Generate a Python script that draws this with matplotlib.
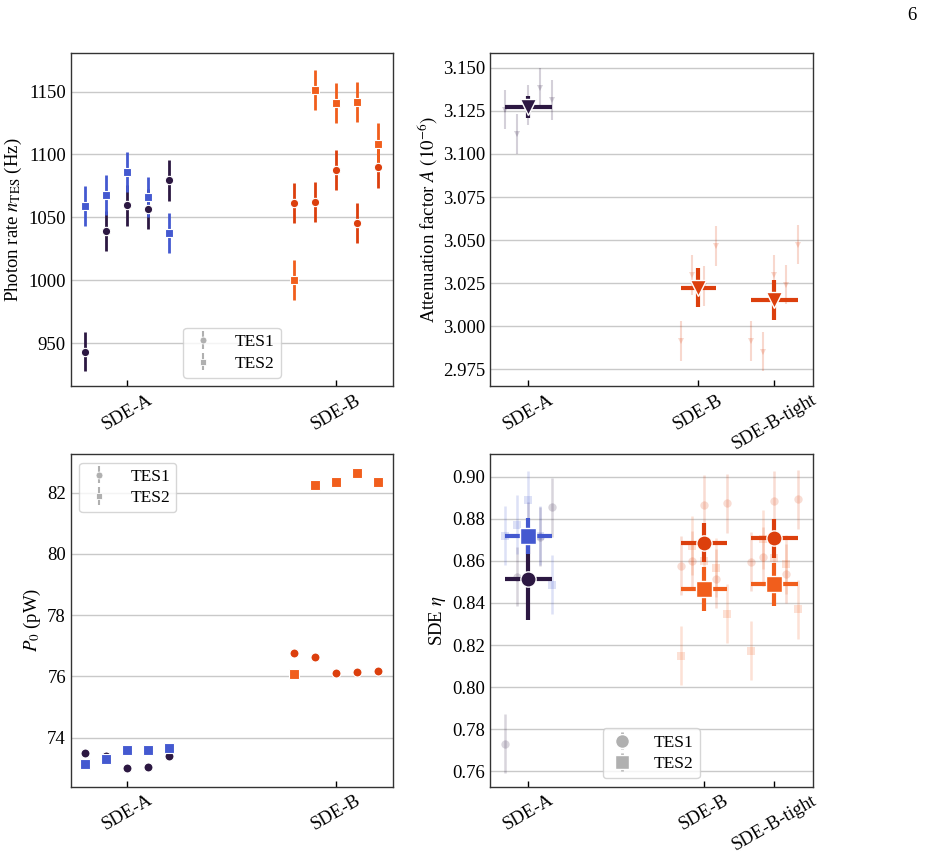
import numpy as np
import matplotlib
matplotlib.use('Agg')
import matplotlib.pyplot as plt
from matplotlib.ticker import FormatStrFormatter

plt.rcParams['font.family'] = ['Liberation Serif', 'DejaVu Serif']
plt.rcParams['mathtext.fontset'] = 'stix'
plt.rcParams['font.size'] = 13.5

# ---------------- data ----------------
tes_labels = ['TES1', 'TES2']
cats2 = ['SDE-A', 'SDE-B']
cats3 = ['SDE-A', 'SDE-B', 'SDE-B-tight']

# photon rate (Hz)
rate_A_tes1 = [943.1, 1038.9, 1059.5, 1056.9, 1079.4]
rate_A_tes2 = [1059.3, 1067.5, 1086.0, 1066.1, 1037.6]
rate_B_tes1 = [1061.4, 1062.4, 1087.8, 1045.8, 1089.7]
rate_B_tes2 = [1000.0, 1151.3, 1140.7, 1141.5, 1108.7]
rate_err_A_tes1 = [15.5, 16, 16, 16, 16]
rate_err_A_tes2 = [16, 16, 16, 16, 16]
rate_err_B_tes1 = [16, 16, 16, 16, 16]
rate_err_B_tes2 = [16, 16, 16, 16, 16]

# P0 (pW)
p0_A_tes1 = [73.50, 73.40, 73.01, 73.04, 73.41]
p0_A_tes2 = [73.15, 73.32, 73.60, 73.59, 73.65]
p0_B_tes1 = [76.76, 76.62, 76.10, 76.15, 76.17]
p0_B_tes2 = [76.07, 82.25, 82.33, 82.63, 82.35]

# attenuation factor (1e-6)
att_A = [3.1257, 3.1116, 3.1282, 3.1384, 3.1313]
att_B = [2.9914, 3.0298, 3.0235, 3.0465]
att_Bt = [2.9914, 2.9854, 3.0300, 3.0242, 3.0474]
att_err = 0.0115
att_mean = [3.1274, 3.0223, 3.0152]
att_mean_err = [0.0064, 0.0113, 0.0116]

# SDE eta
sde_A_tes1 = [0.7731, 0.8525, 0.8740, 0.8715, 0.8854]
sde_A_tes2 = [0.8720, 0.8771, 0.8889, 0.8719, 0.8486]
sde_B_tes1 = [0.8576, 0.8601, 0.8866, 0.8515, 0.8873]
sde_B_tes2 = [0.8150, 0.8671, 0.8599, 0.8567, 0.8348]
sde_Bt_tes1 = [0.8597, 0.8620, 0.8885, 0.8538, 0.8892]
sde_Bt_tes2 = [0.8173, 0.8703, 0.8614, 0.8585, 0.8370]
sde_err = 0.014
sde_mean_tes1 = [0.8513, 0.8687, 0.8707]
sde_mean_tes2 = [0.8717, 0.8467, 0.8489]
sde_mean_err_tes1 = [0.0193, 0.0092, 0.0092]
sde_mean_err_tes2 = [0.0085, 0.0103, 0.0103]

# ---------------- style ----------------
DARK = '#2c1842'
BLUE = '#4459d0'
RED = '#dc3f0d'
ORANGE = '#f15e1c'
GRID = '#c9c9c9'
LEG = dict(fontsize=12.5, handlelength=1.5, handletextpad=1.1, borderpad=0.35,
           labelspacing=0.3)

fig = plt.figure(figsize=(9.26, 8.58), dpi=100)
L1, R1 = 0.0764, 0.4247
L2, R2 = 0.5292, 0.8777
B1, T1 = 0.5497, 0.9382
B2, T2 = 0.0831, 0.4709
ax_rate = fig.add_axes([L1, B1, R1 - L1, T1 - B1])
ax_att = fig.add_axes([L2, B1, R2 - L2, T1 - B1])
ax_p0 = fig.add_axes([L1, B2, R1 - L1, T2 - B2])
ax_sde = fig.add_axes([L2, B2, R2 - L2, T2 - B2])

for ax in (ax_rate, ax_att, ax_p0, ax_sde):
    ax.grid(axis='y', color=GRID, lw=1.0, zorder=0)
    ax.set_axisbelow(True)
    ax.tick_params(direction='in', length=4, width=1, labelsize=13.5)
    ax.tick_params(axis='y', length=0, pad=3.5)
    for s in ax.spines.values():
        s.set_color('#333333')
        s.set_linewidth(1.0)

# ---- photon rate ----
pos2 = np.array([0.0, 1.0])
off5 = np.array([-0.2, -0.1, 0.0, 0.1, 0.2])
for i, (t1, t2, e1, e2, c1, c2) in enumerate([
        (rate_A_tes1, rate_A_tes2, rate_err_A_tes1, rate_err_A_tes2, DARK, BLUE),
        (rate_B_tes1, rate_B_tes2, rate_err_B_tes1, rate_err_B_tes2, RED, ORANGE)]):
    x = pos2[i] + off5
    ax_rate.errorbar(x, t1, yerr=e1, fmt='o', color=c1, ms=6, mec='white', mew=0.8,
                     elinewidth=2.0, capsize=0, zorder=3)
    ax_rate.errorbar(x, t2, yerr=e2, fmt='s', color=c2, ms=6, mec='white', mew=0.8,
                     elinewidth=2.0, capsize=0, zorder=3)
ax_rate.set_xlim(-0.2694, 1.274)
ax_rate.set_ylim(915.6, 1180.7)
ax_rate.set_yticks([950, 1000, 1050, 1100, 1150])
ax_rate.set_xticks(pos2)
ax_rate.set_xticklabels(cats2, rotation=30, ha='center')
ax_rate.set_ylabel(r'Photon rate $n_{\mathrm{TES}}$ (Hz)', labelpad=3)
ax_rate.errorbar([np.nan], [np.nan], yerr=[1], fmt='o', color='#b0b0b0', ms=5,
                 mec='white', mew=0.6, elinewidth=1.5, label=tes_labels[0])
ax_rate.errorbar([np.nan], [np.nan], yerr=[1], fmt='s', color='#b0b0b0', ms=5,
                 mec='white', mew=0.6, elinewidth=1.5, label=tes_labels[1])
ax_rate.legend(loc='lower center', **LEG)

# ---- P0 ----
for i, (t1, t2, c1, c2) in enumerate([(p0_A_tes1, p0_A_tes2, DARK, BLUE),
                                      (p0_B_tes1, p0_B_tes2, RED, ORANGE)]):
    x = pos2[i] + off5
    ax_p0.plot(x, t1, 'o', color=c1, ms=6.5, mec='white', mew=0.8, zorder=3)
    ax_p0.plot(x, t2, 's', color=c2, ms=6.5, mec='white', mew=0.8, zorder=3)
ax_p0.set_xlim(-0.2694, 1.274)
ax_p0.set_ylim(72.40, 83.26)
ax_p0.set_yticks([74, 76, 78, 80, 82])
ax_p0.set_xticks(pos2)
ax_p0.set_xticklabels(cats2, rotation=30, ha='center')
ax_p0.set_ylabel(r'$P_0$ (pW)', labelpad=3)
ax_p0.errorbar([np.nan], [np.nan], yerr=[1], fmt='o', color='#b0b0b0', ms=5,
               mec='white', mew=0.6, elinewidth=1.5, label=tes_labels[0])
ax_p0.errorbar([np.nan], [np.nan], yerr=[1], fmt='s', color='#b0b0b0', ms=5,
               mec='white', mew=0.6, elinewidth=1.5, label=tes_labels[1])
ax_p0.legend(loc='upper left', **LEG)

# ---- attenuation ----
pos_att = np.array([0.0, 1.0, 1.447])
sp_att = 0.0688
groups_att = [att_A, att_B, att_Bt]
cols_att = [DARK, RED, RED]
for i, vals in enumerate(groups_att):
    n = len(vals)
    offs = (np.arange(n) - (n - 1) / 2) * sp_att
    x = pos_att[i] + offs
    ax_att.errorbar(x, vals, yerr=att_err, fmt='v', color=cols_att[i], ms=4,
                    elinewidth=1.5, capsize=0, alpha=0.2, mew=0, zorder=2)
    ax_att.errorbar(pos_att[i], att_mean[i], yerr=att_mean_err[i],
                    xerr=(n - 1) / 2 * sp_att, fmt='v', color=cols_att[i], ms=11,
                    mec='white', mew=1.0, elinewidth=3.0, capsize=0, zorder=4)
ax_att.set_xlim(-0.2253, 1.673)
ax_att.set_ylim(2.9652, 3.1585)
ax_att.set_yticks([2.975, 3.000, 3.025, 3.050, 3.075, 3.100, 3.125, 3.150])
ax_att.yaxis.set_major_formatter(FormatStrFormatter('%.3f'))
ax_att.set_xticks(pos_att)
ax_att.set_xticklabels(cats3, rotation=30, ha='center')
ax_att.set_ylabel(r'Attenuation factor $A$ $(10^{-6})$', labelpad=2)

# ---- SDE ----
pos_sde = np.array([0.0, 1.0, 1.400])
sp_sde = 0.0666
ind1 = [sde_A_tes1, sde_B_tes1, sde_Bt_tes1]
ind2 = [sde_A_tes2, sde_B_tes2, sde_Bt_tes2]
c1s = [DARK, RED, RED]
c2s = [BLUE, ORANGE, ORANGE]
for i in range(3):
    x = pos_sde[i] + off5 / 0.1 * sp_sde
    ax_sde.errorbar(x, ind1[i], yerr=sde_err, fmt='o', color=c1s[i], ms=6,
                    elinewidth=1.8, capsize=0, alpha=0.18, mew=0, zorder=2)
    ax_sde.errorbar(x, ind2[i], yerr=sde_err, fmt='s', color=c2s[i], ms=6,
                    elinewidth=1.8, capsize=0, alpha=0.18, mew=0, zorder=2)
for i in range(3):
    ax_sde.errorbar(pos_sde[i], sde_mean_tes1[i], yerr=sde_mean_err_tes1[i],
                    xerr=2 * sp_sde, fmt='o', color=c1s[i], ms=11, mec='white',
                    mew=1.0, elinewidth=3.0, capsize=0, zorder=4)
    ax_sde.errorbar(pos_sde[i], sde_mean_tes2[i], yerr=sde_mean_err_tes2[i],
                    xerr=2 * sp_sde, fmt='s', color=c2s[i], ms=11, mec='white',
                    mew=1.0, elinewidth=3.0, capsize=0, zorder=5)
ax_sde.set_xlim(-0.218, 1.619)
ax_sde.set_ylim(0.7527, 0.9108)
ax_sde.set_yticks([0.76, 0.78, 0.80, 0.82, 0.84, 0.86, 0.88, 0.90])
ax_sde.yaxis.set_major_formatter(FormatStrFormatter('%.2f'))
ax_sde.set_xticks(pos_sde)
ax_sde.set_xticklabels(cats3, rotation=30, ha='center')
ax_sde.set_ylabel(r'SDE $\eta$', labelpad=3)
ax_sde.errorbar([np.nan], [np.nan], yerr=[1], fmt='o', color='#b0b0b0', ms=10,
                mec='white', mew=1.0, elinewidth=2.0, label=tes_labels[0])
ax_sde.errorbar([np.nan], [np.nan], yerr=[1], fmt='s', color='#b0b0b0', ms=10,
                mec='white', mew=1.0, elinewidth=2.0, label=tes_labels[1])
ax_sde.legend(loc='lower center', **LEG)

fig.text(0.990, 0.982, '6', ha='right', va='center', fontsize=13.5)

fig.savefig('out.png', dpi=100)
